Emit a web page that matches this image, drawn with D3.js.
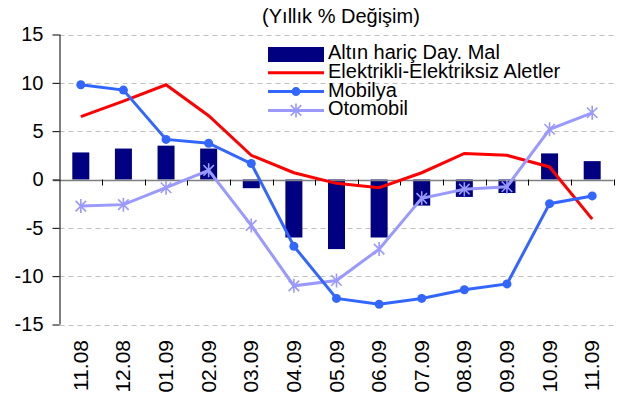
<!DOCTYPE html>
<html>
<head>
  <meta charset="utf-8">
  <script src="https://d3js.org/d3.v7.min.js"></script>
  <style>
    body { margin: 0; background: #fff; }
    text { font-family: Arial, "Liberation Sans", sans-serif; fill: #000; }
  </style>
</head>
<body>
<div id="chart"></div>
<script>
// categories and series (yearly % change)
var months = ["11.08","12.08","01.09","02.09","03.09","04.09","05.09","06.09","07.09","08.09","09.09","10.09","11.09"];
var altin = [2.8, 3.2, 3.5, 3.2, -0.9, -6.0, -7.2, -6.0, -2.7, -1.8, -1.4, 2.7, 1.9];
var elektrikli = [6.5, 8.1, 9.8, 6.6, 2.5, 0.7, -0.4, -0.85, 0.7, 2.7, 2.5, 1.3, -4.1];
var mobilya = [9.8, 9.25, 4.15, 3.75, 1.65, -6.9, -12.3, -12.9, -12.3, -11.4, -10.8, -2.5, -1.7];
var otomobil = [-2.75, -2.6, -0.85, 0.95, -4.75, -11.0, -10.45, -7.2, -1.95, -1.0, -0.75, 5.2, 6.9];
var yTicks = [15, 10, 5, 0, -5, -10, -15];

var W = 621, H = 401;
var margin = {top: 35, right: 8, bottom: 77, left: 60};

var svg = d3.select("#chart").append("svg")
    .attr("width", W).attr("height", H);

var x = d3.scaleBand()
    .domain(months)
    .range([margin.left - 0.5, 613.5]);

var y = d3.scaleLinear()
    .domain([-15, 15])
    .range([324.5, 34.5]);

// title
svg.append("text")
    .attr("x", 341).attr("y", 23)
    .attr("text-anchor", "middle")
    .style("font-size", "20px")
    .text("(Yıllık % Değişim)");

// dashed gridlines
svg.append("g")
  .selectAll("line")
  .data(yTicks.filter(function (d) { return d !== 0; }))
  .enter().append("line")
    .attr("x1", x.range()[0]).attr("x2", x.range()[1])
    .attr("y1", function (d) { return Math.round(y(d)) + 0.5; })
    .attr("y2", function (d) { return Math.round(y(d)) + 0.5; })
    .attr("stroke", "#c0c0c0")
    .attr("stroke-dasharray", "5,4");

// bars
svg.append("g")
  .selectAll("rect")
  .data(altin)
  .enter().append("rect")
    .attr("x", function (d, i) { return x(months[i]) + x.bandwidth() / 2 - 8.5; })
    .attr("width", 17)
    .attr("y", function (d) { return y(Math.max(0, d)); })
    .attr("height", function (d) { return Math.abs(y(d) - y(0)); })
    .attr("fill", "#000080");

// x axis (zero line) with ticks at band edges
var xAxisG = svg.append("g");
xAxisG.append("line")
    .attr("x1", 53).attr("x2", x.range()[1])
    .attr("y1", Math.round(y(0)) + 0.5).attr("y2", Math.round(y(0)) + 0.5)
    .attr("stroke", "#808080").attr("stroke-width", 1.5);
xAxisG.selectAll("line.tk")
  .data(months.slice(1).concat(["end"]))
  .enter().append("line")
    .attr("class", "tk")
    .attr("x1", function (d, i) { return Math.round(x.range()[0] + (i + 1) * x.bandwidth()) + 0.5; })
    .attr("x2", function (d, i) { return Math.round(x.range()[0] + (i + 1) * x.bandwidth()) + 0.5; })
    .attr("y1", y(0)).attr("y2", y(0) + 6)
    .attr("stroke", "#000");

// category labels
svg.append("g")
  .selectAll("text")
  .data(months)
  .enter().append("text")
    .attr("transform", function (d) {
      return "translate(" + (x(d) + x.bandwidth() / 2 + 7) + ",340) rotate(-90)";
    })
    .attr("text-anchor", "end")
    .style("font-size", "21px")
    .text(function (d) { return d; });

// y axis
var yAxis = d3.axisLeft(y).tickValues(yTicks).tickSize(7).tickPadding(9)
    .tickFormat(function (d) { return d; });
var yg = svg.append("g")
    .attr("transform", "translate(" + (margin.left - 0.5) + ",0)")
    .call(yAxis);
yg.select(".domain").attr("stroke", "#000").attr("d", "M0.5,34.5V324.5");
yg.selectAll(".tick line").attr("stroke", "#000");
yg.selectAll(".tick text")
    .style("font-size", "20px")
    .style("font-family", "Arial, 'Liberation Sans', sans-serif")
    .attr("fill", "#000");

var line = d3.line()
    .x(function (d, i) { return x(months[i]) + x.bandwidth() / 2; })
    .y(function (d) { return y(d); });

// Elektrikli line
svg.append("path")
    .datum(elektrikli)
    .attr("d", line)
    .attr("fill", "none").attr("stroke", "#ff0000").attr("stroke-width", 3);

// Otomobil line + asterisks
svg.append("path")
    .datum(otomobil)
    .attr("d", line)
    .attr("fill", "none").attr("stroke", "#9999ff").attr("stroke-width", 3);

function asterisk(g, cx, cy, r, color) {
  var s = r * 0.75;
  g.append("path")
    .attr("d", "M" + cx + "," + (cy - r) + "V" + (cy + r) +
               "M" + (cx - s) + "," + (cy - s) + "L" + (cx + s) + "," + (cy + s) +
               "M" + (cx - s) + "," + (cy + s) + "L" + (cx + s) + "," + (cy - s))
    .attr("stroke", color).attr("stroke-width", 1.6).attr("fill", "none");
}
var astG = svg.append("g");
otomobil.forEach(function (d, i) {
  asterisk(astG, x(months[i]) + x.bandwidth() / 2, y(d), 7, "#9999ff");
});

// Mobilya line + dots
svg.append("path")
    .datum(mobilya)
    .attr("d", line)
    .attr("fill", "none").attr("stroke", "#3366ff").attr("stroke-width", 3);
svg.append("g")
  .selectAll("circle")
  .data(mobilya)
  .enter().append("circle")
    .attr("cx", function (d, i) { return x(months[i]) + x.bandwidth() / 2; })
    .attr("cy", function (d) { return y(d); })
    .attr("r", 4.5)
    .attr("fill", "#3366ff");

// legend
var legendNames = ["Altın hariç Day. Mal", "Elektrikli-Elektriksiz Aletler", "Mobilya", "Otomobil"];
var legendColors = ["#000080", "#ff0000", "#3366ff", "#9999ff"];
var lg = svg.append("g").attr("transform", "translate(268,54)");
legendNames.forEach(function (name, i) {
  var ry = i * 18.8;
  if (i === 0) {
    lg.append("rect").attr("x", 0).attr("y", ry - 7).attr("width", 56).attr("height", 15).attr("fill", legendColors[i]);
  } else {
    lg.append("line").attr("x1", 0).attr("x2", 56).attr("y1", ry).attr("y2", ry)
      .attr("stroke", legendColors[i]).attr("stroke-width", 3);
    if (i === 2) lg.append("circle").attr("cx", 28).attr("cy", ry).attr("r", 4.5).attr("fill", legendColors[i]);
    if (i === 3) asterisk(lg, 28, ry, 7, legendColors[i]);
  }
  lg.append("text")
    .attr("x", 60).attr("y", ry + 5)
    .style("font-size", "20px")
    .text(name);
});
</script>
</body>
</html>
